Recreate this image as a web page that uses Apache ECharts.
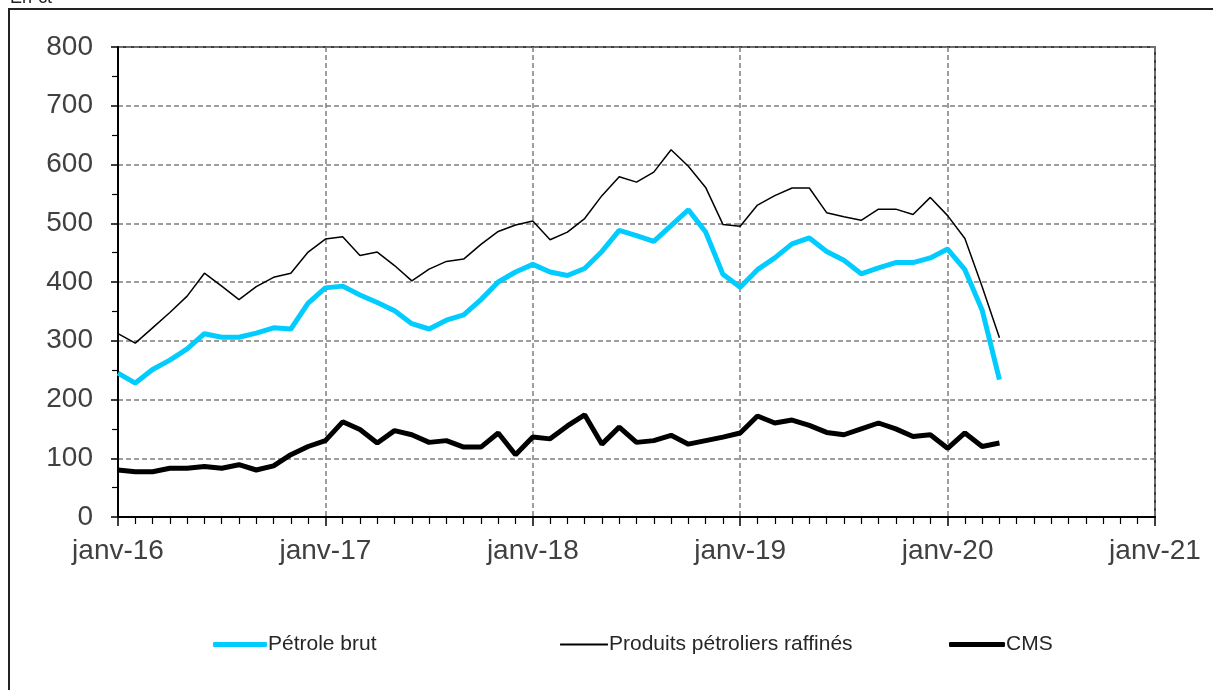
<!DOCTYPE html>
<html>
<head>
<meta charset="utf-8">
<script src="https://cdn.jsdelivr.net/npm/echarts@6/dist/echarts.min.js"></script>
<style>
  html, body { margin: 0; padding: 0; background: #fff; }
  #frame { position: absolute; left: 8px; top: 8px; width: 1220px; height: 700px;
           border-left: 2px solid #222; border-top: 2px solid #222; }
  #chart { position: absolute; left: 0; top: 0; width: 1213px; height: 690px; }
</style>
</head>
<body>
<div id="frame"></div>
<div id="chart"></div>
<script>
// monthly values, janv-16 .. avr-20 (index 0 = janv-16)
const petrole = [245, 228, 251, 267, 286, 312, 306, 306, 313, 322, 320, 364,
  390, 393, 378, 365, 351, 329, 320, 335, 344, 370, 400, 417,
  430, 417, 411, 423, 452, 488, 479, 469, 496, 523, 485, 413,
  391, 421, 441, 465, 475, 452, 437, 414, 424, 433, 433, 441,
  456, 421, 352, 234];
const produits = [312, 296, 322, 348, 376, 415, 393, 370, 392, 408, 415, 451,
  473, 477, 445, 451, 428, 402, 422, 435, 439, 464, 486, 497,
  504, 472, 485, 508, 547, 579, 570, 587, 625, 597, 561, 498,
  495, 531, 547, 560, 560, 518, 511, 505, 524, 524, 515, 544,
  513, 474, 392, 305];
const cms = [80, 77, 77, 83, 83, 86, 83, 89, 80, 87, 106, 120,
  130, 162, 149, 126, 147, 140, 127, 130, 119, 119, 143, 106,
  136, 133, 155, 174, 124, 153, 127, 130, 139, 124, 130, 136,
  143, 172, 160, 165, 156, 144, 140, 150, 160, 150, 137, 140,
  117, 143, 120, 126];
const yearLabels = ['janv-16', 'janv-17', 'janv-18', 'janv-19', 'janv-20', 'janv-21'];

const toPoints = arr => arr.map((v, i) => [i, v]);

const chart = echarts.init(document.getElementById('chart'));
const font = 'Liberation Sans, Arial, sans-serif';
const splitStyle = { color: '#7f7f7f', width: 1.5, type: [5, 3] };

// one legend per series, so each can sit where the reference puts it
const legendItem = (name, left, width, height, color) => ({
  data: [name], left: left, top: 629,
  icon: 'roundRect', itemWidth: width, itemHeight: height, itemGap: 2,
  itemStyle: { color: color, borderWidth: 0 },
  textStyle: { fontSize: 21, fontFamily: font, color: '#262626', padding: [0, 0, 0, -4] }
});

const option = {
  animation: false,
  graphic: [{
    type: 'text', left: 10, top: -11,
    style: { text: 'En €t', fontSize: 18, fontFamily: font, fill: '#222' }
  }],
  grid: {
    left: 118, right: 58, top: 47, bottom: 173,
    show: true, borderColor: '#000', borderWidth: 1.5
  },
  legend: [
    legendItem('Pétrole brut', 208, 54, 5, '#00ccff'),
    legendItem('Produits pétroliers raffinés', 555, 48, 2, '#000'),
    legendItem('CMS', 944, 56, 5, '#000')
  ],
  xAxis: {
    type: 'value', min: 0, max: 60, interval: 12,
    axisLine: { lineStyle: { color: '#000', width: 2 } },
    axisTick: { length: 9, lineStyle: { color: '#000', width: 1.5 } },
    minorTick: { show: true, splitNumber: 12, length: 7, lineStyle: { color: '#000', width: 1.2 } },
    splitLine: { show: true, lineStyle: splitStyle },
    axisLabel: {
      fontSize: 28, fontFamily: font, color: '#404040', margin: 20,
      formatter: v => yearLabels[Math.round(v / 12)]
    }
  },
  yAxis: {
    type: 'value', min: 0, max: 800, interval: 100,
    axisLine: { show: true, lineStyle: { color: '#000', width: 2 } },
    axisTick: { show: true, length: 7, lineStyle: { color: '#000', width: 1.5 } },
    minorTick: { show: true, splitNumber: 2, length: 6, lineStyle: { color: '#000', width: 1.2 } },
    splitLine: { show: true, lineStyle: splitStyle },
    axisLabel: { fontSize: 28, fontFamily: font, color: '#404040', margin: 25 }
  },
  series: [
    {
      name: 'Pétrole brut', type: 'line', symbol: 'none',
      lineStyle: { color: '#00ccff', width: 5 }, itemStyle: { color: '#00ccff' },
      data: toPoints(petrole)
    },
    {
      name: 'Produits pétroliers raffinés', type: 'line', symbol: 'none',
      lineStyle: { color: '#000', width: 1.5 }, itemStyle: { color: '#000' },
      data: toPoints(produits)
    },
    {
      name: 'CMS', type: 'line', symbol: 'none',
      lineStyle: { color: '#000', width: 5 }, itemStyle: { color: '#000' },
      data: toPoints(cms)
    }
  ]
};

chart.setOption(option);
</script>
</body>
</html>
